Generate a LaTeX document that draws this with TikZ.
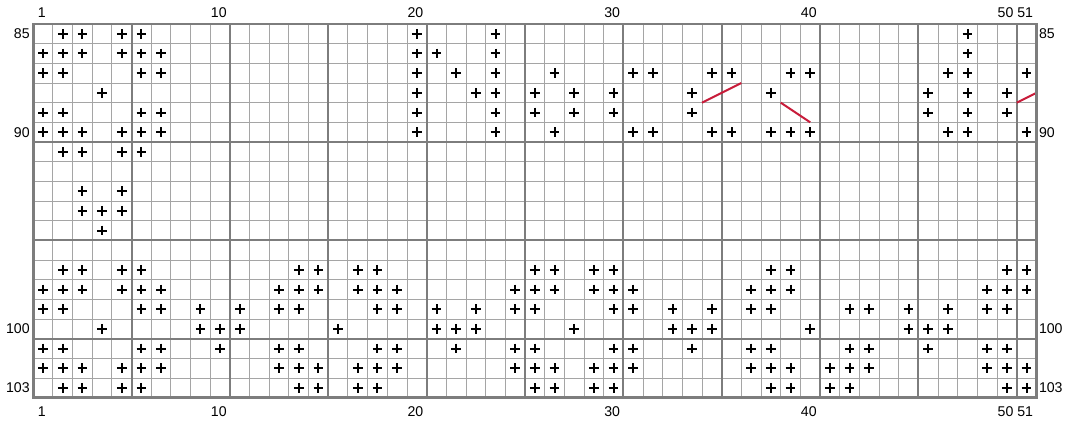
\documentclass[tikz,border=0pt]{standalone}
\usepackage{fontspec}
\setmainfont{Liberation Sans}
\usetikzlibrary{calc}
\definecolor{gridthin}{RGB}{165,165,165}
\definecolor{gridthick}{RGB}{125,125,125}
\definecolor{chartred}{RGB}{200,28,58}

\begin{document}
\begin{tikzpicture}[x=14.75pt,y=-14.75pt,
  thinline/.style={gridthin,line width=0.75pt},
  thickline/.style={gridthick,line width=1.5pt},
  pluss/.style={black,line width=1.5pt},
  lbl/.style={font=\fontsize{10.6}{12}\selectfont,inner sep=0pt}]
  \useasboundingbox (-1.693,-1.220) rectangle (52.76,20.28);
  % grid
  \foreach \i in {1,...,50} \draw[thinline] (\i,0)--(\i,19);
  \foreach \j in {1,...,18} \draw[thinline] (0,\j)--(51,\j);
  \foreach \i in {5,10,...,50} \draw[thickline] (\i,0)--(\i,19);
  \foreach \j in {6,11,16} \draw[thickline] (0,\j)--(51,\j);
  % stitches, row / columns
  \foreach \r/\cols in {
    85/{2,3,5,6,20,24,48},
    86/{1,2,3,5,6,7,20,21,24,48},
    87/{1,2,6,7,20,22,24,27,31,32,35,36,39,40,47,48,51},
    88/{4,20,23,24,26,28,30,34,38,46,48,50},
    89/{1,2,6,7,20,24,26,28,30,34,46,48,50},
    90/{1,2,3,5,6,7,20,24,27,31,32,35,36,38,39,40,47,48,51},
    91/{2,3,5,6},
    93/{3,5},
    94/{3,4,5},
    95/{4},
    97/{2,3,5,6,14,15,17,18,26,27,29,30,38,39,50,51},
    98/{1,2,3,5,6,7,13,14,15,17,18,19,25,26,27,29,30,31,37,38,39,49,50,51},
    99/{1,2,6,7,9,11,13,14,18,19,21,23,25,26,30,31,33,35,37,38,42,43,45,47,49,50},
    100/{4,9,10,11,16,21,22,23,28,33,34,35,40,45,46,47},
    101/{1,2,6,7,10,13,14,18,19,22,25,26,30,31,34,37,38,42,43,46,49,50},
    102/{1,2,3,5,6,7,13,14,15,17,18,19,25,26,27,29,30,31,37,38,39,41,42,43,49,50,51},
    103/{2,3,5,6,14,15,17,18,26,27,29,30,38,39,41,42,50,51}}
    \foreach \c in \cols
      \draw[pluss] (\c-0.75,\r-84.5)--++(0.5,0) (\c-0.5,\r-84.75)--++(0,0.5);
  % cable strokes
  \draw[chartred,line width=1.5pt] (34,4)--(36,3);
  \draw[chartred,line width=1.5pt] (38,4)--(39.5,5);
  \draw[chartred,line width=1.5pt] (50,4)--(51,3.5);
  \draw[gridthick,line width=1.9pt] (0,0) rectangle (51,19);
  % numbering
  \foreach \c in {1,10,20,30,40,50,51} {
    \node[lbl] (ct\c) at (\c-0.57,-0.57) {\c};
    \node[lbl] (cb\c) at (\c-0.57,19.7) {\c};
  }
  \foreach \r in {85,90,100,103} {
    \node[lbl,anchor=east] (rl\r) at (-0.17,\r-84.5) {\r};
    \node[lbl,anchor=west] (rr\r) at (51.12,\r-84.5) {\r};
  }
\end{tikzpicture}
\end{document}
